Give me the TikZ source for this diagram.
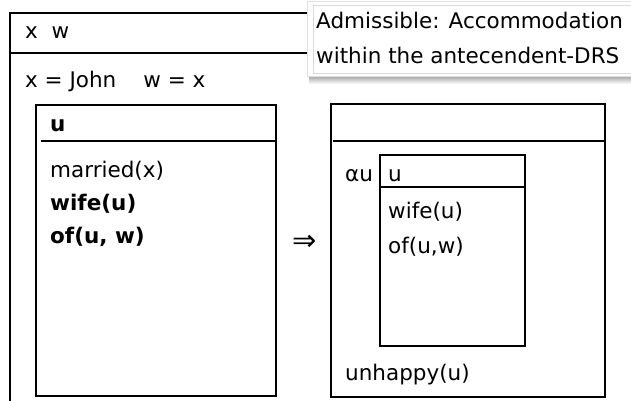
\documentclass[tikz,border=0pt]{standalone}
\usepackage{fontspec}
\setmainfont{DejaVu Sans}
\usepackage{tikz}
\usetikzlibrary{calc,positioning}

\begin{document}
\begin{tikzpicture}[x=1pt,y=1pt,
  txt/.style={anchor=base west,inner sep=0pt,font=\fontsize{21.5}{26}\selectfont},
  bx/.style={line width=1.6pt}]
\useasboundingbox (0,0) rectangle (631,-400);
\clip (0,0) rectangle (631,-400);
% outer DRS
\draw[bx] (10,-13) rectangle (700,-430);
\draw[bx] (10,-53)--(700,-53);
\node[txt] (ref) at (25,-38) {x~~w};
\node[txt] (cond) at (25,-87) {x = John\hspace{27pt}w = x};
% left sub-DRS
\draw[bx] (36,-105) rectangle (276,-396);
\draw[bx] (41,-141)--(276,-141);
\node[txt] (lu) at (50,-131) {\bfseries u};
\node[txt] (married) at (50,-177) {married(x)};
\node[txt] (lwife) at (50,-210) {\bfseries wife(u)};
\node[txt] (lof) at (50,-243) {\bfseries of(u, w)};
\node[inner sep=0pt,font=\fontsize{29}{32}\selectfont] (impl) at (304.7,-243.3) {⇒};
% right sub-DRS
\draw[bx] (331,-104) rectangle (605,-397);
\draw[bx] (333,-141)--(605,-141);
\node[txt] (alpha) at (345,-181) {αu};
\draw[bx] (380,-155) rectangle (525,-346);
\draw[bx] (380,-187)--(525,-187);
\node[txt] (ru) at (388,-181) {u};
\node[txt] (rwife) at (388,-218) {wife(u)};
\node[txt] (rof) at (388,-253) {of(u,w)};
\node[txt] (unhappy) at (345,-380) {unhappy(u)};
% annotation
\shade[top color=black!45,bottom color=white] (309,-74) rectangle (640,-84);
\fill[white,draw=black!12] (307,-1) rectangle (640,-76);
\draw[black!15] (313,-5) rectangle (640,-73);
\node[txt] (note1) at (316,-28) {Admissible: Accommodation};
\node[txt] (note2) at (316,-63) {within the antecendent-DRS};
\end{tikzpicture}
\end{document}
